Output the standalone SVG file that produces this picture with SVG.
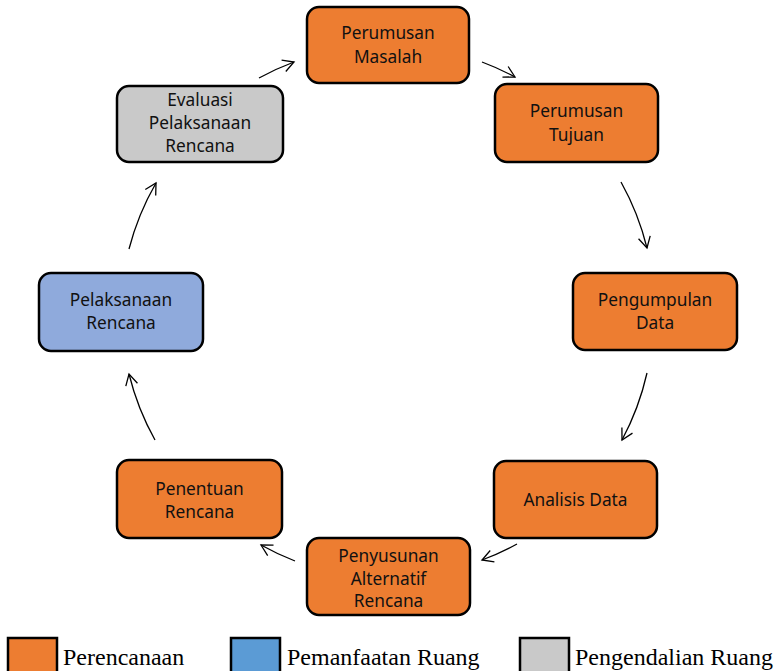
<svg xmlns="http://www.w3.org/2000/svg" width="779" height="671" viewBox="0 0 779 671">
  <style>
    .box { stroke: #000; stroke-width: 2.5; }
    .plan { fill: #ED7D31; }
    .use { fill: #8FAADC; }
    .ctrl { fill: #C9C9C9; }
    .lbl { font-family: "Noto Sans", "Open Sans", sans-serif; font-size: 17.3px; fill: #111; text-anchor: middle; }
    .conn { fill: none; stroke: #000; stroke-width: 1.3; marker-end: url(#open); }
    .leg { font-family: "Liberation Serif", "Times New Roman", serif; font-size: 24px; fill: #000; }
    .legbox { stroke: #000; stroke-width: 2.5; }
  </style>
  <defs>
    <marker id="open" markerUnits="userSpaceOnUse" markerWidth="14" markerHeight="14" viewBox="-1 -1 14 14" refX="11" refY="6" orient="auto">
      <path d="M0,0 L11,6 L0,12" fill="none" stroke="#000" stroke-width="1.3"/>
    </marker>
  </defs>

  <rect width="779" height="671" fill="#fff"/>

  <!-- connectors: arcs around the cycle centre (388,311), r = 266 -->
  <g id="connectors">
    <path class="conn" d="M259,78 A266,266 0 0 1 294,62"/>
    <path class="conn" d="M482,62 A266,266 0 0 1 515,77"/>
    <path class="conn" d="M621,182 A266,266 0 0 1 647,248"/>
    <path class="conn" d="M647,373 A266,266 0 0 1 622,440"/>
    <path class="conn" d="M517,544 A266,266 0 0 1 482,560"/>
    <path class="conn" d="M295,561 A266,266 0 0 1 261,545"/>
    <path class="conn" d="M155,440 A266,266 0 0 1 129,374"/>
    <path class="conn" d="M129,249 A266,266 0 0 1 156,183"/>
  </g>

  <g id="perumusan-masalah">
    <rect class="box plan" x="307" y="7" width="162" height="76" rx="12"/>
    <text class="lbl" x="388" y="39">Perumusan</text>
    <text class="lbl" x="388" y="63">Masalah</text>
  </g>

  <g id="perumusan-tujuan">
    <rect class="box plan" x="495" y="84" width="163" height="78" rx="12"/>
    <text class="lbl" x="576.5" y="117">Perumusan</text>
    <text class="lbl" x="576.5" y="141">Tujuan</text>
  </g>

  <g id="pengumpulan-data">
    <rect class="box plan" x="573" y="273" width="164" height="77" rx="12"/>
    <text class="lbl" x="655" y="306">Pengumpulan</text>
    <text class="lbl" x="655" y="329">Data</text>
  </g>

  <g id="analisis-data">
    <rect class="box plan" x="494" y="461" width="163" height="77" rx="12"/>
    <text class="lbl" x="575.5" y="506">Analisis Data</text>
  </g>

  <g id="penyusunan-alternatif">
    <rect class="box plan" x="307" y="538" width="163" height="77" rx="12"/>
    <text class="lbl" x="388.5" y="562">Penyusunan</text>
    <text class="lbl" x="388.5" y="585">Alternatif</text>
    <text class="lbl" x="388.5" y="607">Rencana</text>
  </g>

  <g id="penentuan-rencana">
    <rect class="box plan" x="117" y="460" width="165" height="78" rx="12"/>
    <text class="lbl" x="199.5" y="495">Penentuan</text>
    <text class="lbl" x="199.5" y="518">Rencana</text>
  </g>

  <g id="pelaksanaan-rencana">
    <rect class="box use" x="39" y="273" width="164" height="78" rx="12"/>
    <text class="lbl" x="121" y="306">Pelaksanaan</text>
    <text class="lbl" x="121" y="329">Rencana</text>
  </g>

  <g id="evaluasi">
    <rect class="box ctrl" x="117" y="86" width="166" height="76" rx="12"/>
    <text class="lbl" x="200" y="106">Evaluasi</text>
    <text class="lbl" x="200" y="129">Pelaksanaan</text>
    <text class="lbl" x="200" y="152">Rencana</text>
  </g>

  <!-- legend -->
  <g id="legend">
    <rect class="legbox" x="8" y="638" width="49" height="40" fill="#ED7D31"/>
    <text class="leg" x="63" y="665">Perencanaan</text>
    <rect class="legbox" x="231" y="638" width="49" height="40" fill="#5B9BD5"/>
    <text class="leg" x="287" y="665">Pemanfaatan Ruang</text>
    <rect class="legbox" x="520" y="638" width="49" height="40" fill="#C9C9C9"/>
    <text class="leg" x="575" y="665">Pengendalian Ruang</text>
  </g>
</svg>
